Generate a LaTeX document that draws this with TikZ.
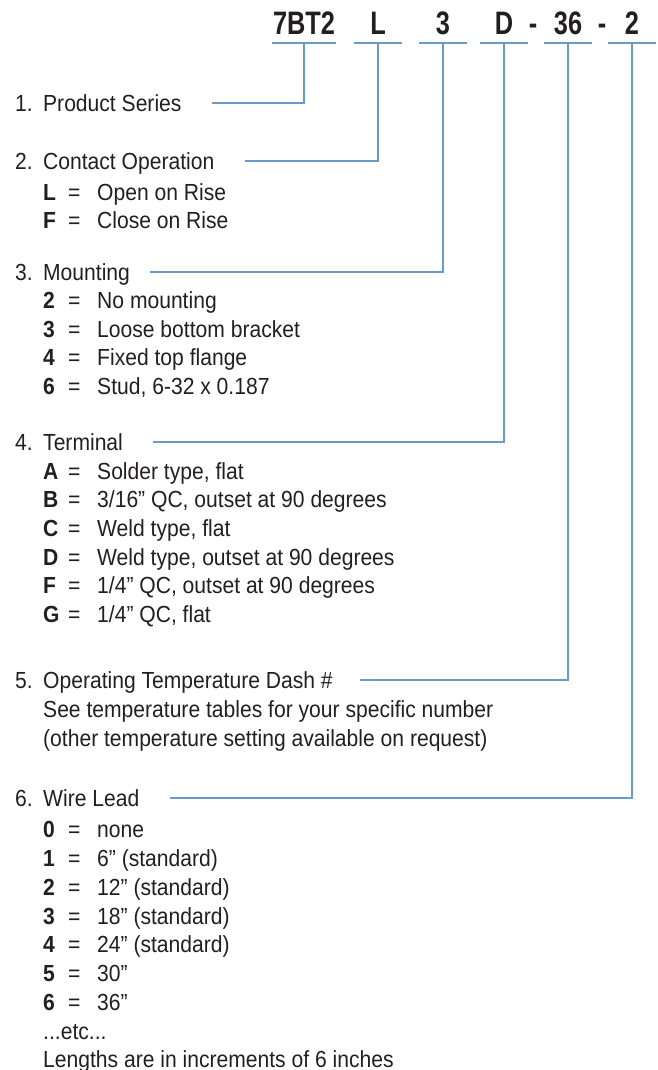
\documentclass[tikz,border=0pt]{standalone}
\usepackage{fontspec}
\setmainfont{Liberation Sans}[FakeStretch=0.905]
\newfontfamily\codefont{Liberation Sans}[FakeStretch=0.78]
\usetikzlibrary{calc}
\definecolor{lead}{HTML}{6A9AC8}
\definecolor{ink}{HTML}{231F20}
\newcommand\opt[2]{\makebox[25pt][l]{\textbf{#1}}\makebox[29pt][l]{=}#2}
\newcommand\head[2]{\makebox[28pt][l]{#1}#2}
\tikzset{codebox/.style={font=\codefont\fontsize{32.5}{33}\selectfont\bfseries,text=ink,inner sep=0pt,text height=23.3pt,text depth=0pt},
  item/.style={anchor=west,font=\fontsize{23.3}{28}\selectfont,text=ink,inner sep=0pt,text height=16.7pt,text depth=0pt},
  leadline/.style={draw=lead,line width=2pt}}

\begin{document}
\begin{tikzpicture}[x=1pt,y=-1pt]
\useasboundingbox (0,0) rectangle (658,1070);
% part number
\node[codebox] (c1) at (304,23.3) {7BT2};
\node[codebox] (c2) at (378,23.3) {L};
\node[codebox] (c3) at (443,23.3) {3};
\node[codebox] (c4) at (504,23.3) {D};
\node[codebox] (d1) at (533,23.3) {-};
\node[codebox] (c5) at (568,23.3) {36};
\node[codebox] (d2) at (602,23.3) {-};
\node[codebox] (c6) at (632,23.3) {2};
\coordinate (b1) at (c1 |- 0,43);
\coordinate (b2) at (c2 |- 0,43);
\coordinate (b3) at (c3 |- 0,43);
\coordinate (b4) at (c4 |- 0,43);
\coordinate (b5) at (c5 |- 0,43);
\coordinate (b6) at (c6 |- 0,43);
\draw[leadline] ([xshift=-32pt]b1) -- ([xshift=32pt]b1);
\draw[leadline] ([xshift=-24pt]b2) -- ([xshift=24pt]b2);
\draw[leadline] ([xshift=-24pt]b3) -- ([xshift=24pt]b3);
\draw[leadline] ([xshift=-24pt]b4) -- ([xshift=24pt]b4);
\draw[leadline] ([xshift=-24pt]b5) -- ([xshift=24pt]b5);
\draw[leadline] ([xshift=-24pt]b6) -- ([xshift=24pt]b6);
% 1
\node[item] (t1) at (15,103) {\head{1.}{Product Series}};
% 2
\node[item] (t2) at (15,161) {\head{2.}{Contact Operation}};
\node[item] (o21) at (43,192) {\opt{L}{Open on Rise}};
\node[item] (o22) at (43,220) {\opt{F}{Close on Rise}};
% 3
\node[item] (t3) at (15,272) {\head{3.}{Mounting}};
\node[item] (o31) at (43,300) {\opt{2}{No mounting}};
\node[item] (o32) at (43,329) {\opt{3}{Loose bottom bracket}};
\node[item] (o33) at (43,357) {\opt{4}{Fixed top flange}};
\node[item] (o34) at (43,386) {\opt{6}{Stud, 6-32 x 0.187}};
% 4
\node[item] (t4) at (15,442) {\head{4.}{Terminal}};
\node[item] (o41) at (43,471) {\opt{A}{Solder type, flat}};
\node[item] (o42) at (43,499) {\opt{B}{3/16\textquotedblright\ QC, outset at 90 degrees}};
\node[item] (o43) at (43,528) {\opt{C}{Weld type, flat}};
\node[item] (o44) at (43,557) {\opt{D}{Weld type, outset at 90 degrees}};
\node[item] (o45) at (43,585) {\opt{F}{1/4\textquotedblright\ QC, outset at 90 degrees}};
\node[item] (o46) at (43,614) {\opt{G}{1/4\textquotedblright\ QC, flat}};
% 5
\node[item] (t5) at (15,680) {\head{5.}{Operating Temperature Dash \#}};
\node[item] (o51) at (43,709) {See temperature tables for your specific number};
\node[item] (o52) at (43,738) {(other temperature setting available on request)};
% 6
\node[item] (t6) at (15,798) {\head{6.}{Wire Lead}};
\node[item] (o61) at (43,829) {\opt{0}{none}};
\node[item] (o62) at (43,858) {\opt{1}{6\textquotedblright\ (standard)}};
\node[item] (o63) at (43,887) {\opt{2}{12\textquotedblright\ (standard)}};
\node[item] (o64) at (43,916) {\opt{3}{18\textquotedblright\ (standard)}};
\node[item] (o65) at (43,944) {\opt{4}{24\textquotedblright\ (standard)}};
\node[item] (o66) at (43,973) {\opt{5}{30\textquotedblright}};
\node[item] (o67) at (43,1002) {\opt{6}{36\textquotedblright}};
\node[item] (o68) at (43,1031) {...etc...};
\node[item] (o69) at (43,1059) {Lengths are in increments of 6 inches};
% leaders
\draw[leadline] ([xshift=30pt]t1.east) -| (b1);
\draw[leadline] ([xshift=30pt]t2.east) -| (b2);
\draw[leadline] ([xshift=20pt]t3.east) -| (b3);
\draw[leadline] ([xshift=30pt]t4.east) -| (b4);
\draw[leadline] ([xshift=27pt]t5.east) -| (b5);
\draw[leadline] ([xshift=30pt]t6.east) -| (b6);
\end{tikzpicture}
\end{document}
